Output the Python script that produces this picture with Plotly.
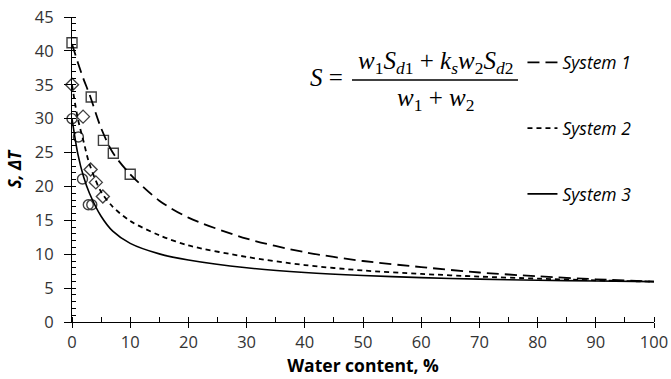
import plotly.graph_objects as go

# Model curves
curve_x = [0, 1, 2, 3, 5, 7, 10, 15, 20, 30, 40, 50, 60, 70, 80, 90, 100]
system1 = [41.0, 38.3, 35.8, 33.6, 28.6, 25.0, 21.8, 17.9, 15.4, 12.3, 10.3, 9.0, 8.1, 7.3, 6.75, 6.3, 5.95]
system2 = [35.0, 30.0, 26.6, 23.3, 19.2, 17.0, 14.9, 12.8, 11.3, 9.6, 8.4, 7.6, 7.1, 6.7, 6.4, 6.15, 5.95]
system3 = [30.0, 24.8, 21.4, 19.0, 15.6, 13.4, 11.6, 10.05, 9.15, 8.0, 7.3, 6.85, 6.55, 6.32, 6.17, 6.05, 5.95]

# Measured points
sq_x = [0, 3.3, 5.4, 7.1, 10.0]
sq_y = [41.2, 33.2, 26.8, 24.9, 21.8]
di_x = [0, 1.9, 3.2, 4.1, 5.3]
di_y = [35.0, 30.3, 22.5, 20.6, 18.5]
ci_x = [0, 1.1, 1.8, 2.8, 3.4]
ci_y = [30.0, 27.3, 21.1, 17.3, 17.3]

series_names = ["System 1", "System 2", "System 3"]
x_ticks = list(range(0, 101, 10))
y_ticks = list(range(0, 46, 5))

fig = go.Figure()
mk_col = "#404040"
for xs, ys, sym, sz in [(sq_x, sq_y, "square-open", 10), (di_x, di_y, "diamond-open", 10), (ci_x, ci_y, "circle-open", 10)]:
    fig.add_trace(go.Scatter(x=xs, y=ys, mode="markers", showlegend=False, cliponaxis=False,
                             marker=dict(symbol=sym, size=sz, color=mk_col, line=dict(width=1.4, color=mk_col))))

for i, (ys, dash, w) in enumerate([(system1, "12px,6px", 1.8), (system2, "5px,4px", 1.8), (system3, "solid", 1.6)]):
    fig.add_trace(go.Scatter(x=curve_x, y=ys, mode="lines", name="<i>" + series_names[i] + "</i>",
                             legendgroup=str(i), line=dict(color="black", width=w, dash=dash, shape="spline", smoothing=0.8)))

# dummy trace for overlay axes (tick crossing)
fig.add_trace(go.Scatter(x=[], y=[], xaxis="x2", yaxis="y2", showlegend=False))

font_fam = "Open Sans"
fig.update_layout(
    width=671, height=379,
    margin=dict(l=72, r=17, t=17, b=57),
    paper_bgcolor="white", plot_bgcolor="white",
    font=dict(family=font_fam, size=16.5, color="#333333"),
    showlegend=True,
    legend=dict(x=0.774, y=0.91, xanchor="left", yanchor="top", bgcolor="rgba(0,0,0,0)",
                font=dict(family=font_fam, size=17.5, color="black"), tracegroupgap=40),
    xaxis=dict(range=[0, 100], tickvals=x_ticks, showgrid=False, zeroline=False, automargin=False,
               showline=True, linecolor="black", linewidth=1.2,
               ticks="outside", ticklen=5, tickcolor="black", tickwidth=1.2,
               minor=dict(dtick=5, ticks="inside", ticklen=5, tickcolor="black", tickwidth=1, showgrid=False),
               title=dict(text="<b>Water content, %</b>", font=dict(size=17.5, color="black"), standoff=4)),
    yaxis=dict(range=[0, 45], tickvals=y_ticks, showgrid=False, zeroline=False, automargin=False,
               showline=True, linecolor="black", linewidth=1.2,
               ticks="outside", ticklen=7, tickcolor="black", tickwidth=1.2, ticklabelstandoff=7,
               minor=dict(dtick=1, ticks="inside", ticklen=4, tickcolor="black", tickwidth=1, showgrid=False),
               title=dict(text="<b><i>S, ΔT</i></b>", font=dict(size=17, color="black"), standoff=8)),
    xaxis2=dict(range=[0, 100], overlaying="x", anchor="y", tickvals=x_ticks, showticklabels=False, automargin=False,
                ticks="inside", ticklen=5, tickcolor="black", tickwidth=1.2, showgrid=False, zeroline=False, showline=False),
    yaxis2=dict(range=[0, 45], overlaying="y", anchor="x", tickvals=y_ticks, showticklabels=False, automargin=False,
                ticks="inside", ticklen=3, tickcolor="black", tickwidth=1.2, showgrid=False, zeroline=False, showline=False),
)

ffont = dict(family="Liberation Serif", size=25, color="black")
fig.add_annotation(x=0.469, y=0.80, xref="paper", yref="paper", xanchor="right", yanchor="middle",
                   text="<i>S</i> =", showarrow=False, font=ffont)
fig.add_annotation(x=0.6246, y=0.852, xref="paper", yref="paper", xanchor="center", yanchor="middle",
                   text="<i>w</i><sub>1</sub><i>S</i><sub><i>d</i>1</sub> + <i>k</i><sub><i>s</i></sub><i>w</i><sub>2</sub><i>S</i><sub><i>d</i>2</sub>",
                   showarrow=False, font=ffont)
fig.add_annotation(x=0.6246, y=0.731, xref="paper", yref="paper", xanchor="center", yanchor="middle",
                   text="<i>w</i><sub>1</sub> + <i>w</i><sub>2</sub>", showarrow=False, font=ffont)
fig.add_shape(type="line", xref="paper", yref="paper", x0=0.4811, x1=0.7663, y0=0.7934, y1=0.7934,
              line=dict(color="black", width=1.3))

fig.write_html("out.html")
